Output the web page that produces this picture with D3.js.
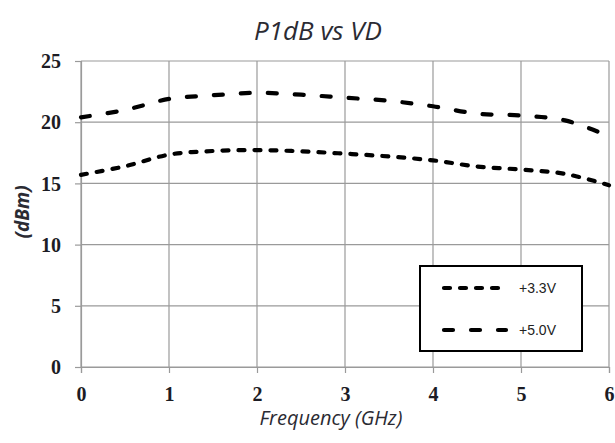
<!DOCTYPE html>
<html>
<head>
<meta charset="utf-8">
<script src="https://cdn.jsdelivr.net/npm/d3@7"></script>
<style>
  html, body { margin: 0; padding: 0; background: #fff; }
  svg { display: block; }
</style>
</head>
<body>
<svg id="chart" width="615" height="443"></svg>
<script>
// Frequency points (GHz) and P1dB readings (dBm) for each drain voltage
const freqGHz = [0, 0.5, 1, 1.5, 2, 2.5, 3, 3.5, 4, 4.5, 5, 5.5, 6];
const p1dB_3v3 = [15.7, 16.4, 17.35, 17.65, 17.72, 17.62, 17.43, 17.2, 16.88, 16.38, 16.13, 15.78, 14.85];
const p1dB_5v0 = [20.4, 21.0, 21.9, 22.2, 22.4, 22.25, 22.0, 21.75, 21.3, 20.7, 20.55, 20.15, 18.85];
const seriesNames = ["+3.3V", "+5.0V"];
const xTicks = [0, 1, 2, 3, 4, 5, 6];
const yTicks = [0, 5, 10, 15, 20, 25];

const svg = d3.select("#chart");
const margin = { left: 81, right: 6, top: 61, bottom: 76 };
const W = 615, H = 443;

const x = d3.scaleLinear().domain([0, 6]).range([margin.left, W - margin.right]);
const y = d3.scaleLinear().domain([0, 25]).range([H - margin.bottom, margin.top]);

const gridColor = "#9a9a9a";
const tickFont = "'Liberation Serif', 'DejaVu Serif', serif";
const textFont = "'Open Sans', 'Noto Sans', sans-serif";

// Gridlines
svg.append("g")
  .selectAll("line.h")
  .data(yTicks)
  .join("line")
  .attr("x1", x(0)).attr("x2", x(6))
  .attr("y1", d => y(d)).attr("y2", d => y(d))
  .attr("stroke", gridColor).attr("stroke-width", 1.2);
svg.append("g")
  .selectAll("line.v")
  .data(xTicks)
  .join("line")
  .attr("x1", d => x(d)).attr("x2", d => x(d))
  .attr("y1", y(0)).attr("y2", y(25))
  .attr("stroke", gridColor).attr("stroke-width", 1.2);

// Axes
const xAxis = svg.append("g")
  .attr("transform", `translate(0,${y(0)})`)
  .call(d3.axisBottom(x).tickValues(xTicks).tickSize(6).tickPadding(8).tickFormat(d3.format("d")));
const yAxis = svg.append("g")
  .attr("transform", `translate(${x(0)},0)`)
  .call(d3.axisLeft(y).tickValues(yTicks).tickSize(6).tickPadding(14).tickFormat(d3.format("d")));

[xAxis, yAxis].forEach(g => {
  g.select(".domain").attr("stroke", gridColor).attr("stroke-width", 1.2);
  g.selectAll(".tick line").attr("stroke", gridColor).attr("stroke-width", 1.2);
  g.selectAll(".tick text")
    .attr("fill", "#1c1c24")
    .style("font-family", tickFont)
    .style("font-weight", "bold")
    .style("font-size", "20px");
});
xAxis.selectAll(".tick text").attr("y", 34).attr("dy", null);
yAxis.selectAll(".tick text").attr("dy", "0.33em");

// Series lines
const line = d3.line()
  .x((d, i) => x(freqGHz[i]))
  .y(d => y(d))
  .curve(d3.curveCatmullRom.alpha(0.5));

const series = [
  { name: seriesNames[0], values: p1dB_3v3, dash: "6,10" },
  { name: seriesNames[1], values: p1dB_5v0, dash: "9,18" }
];

svg.append("g")
  .selectAll("path")
  .data(series)
  .join("path")
  .attr("d", d => line(d.values))
  .attr("fill", "none")
  .attr("stroke", "#000")
  .attr("stroke-width", 4.2)
  .attr("stroke-linecap", "round")
  .attr("stroke-dasharray", d => d.dash);

// Legend
const legend = svg.append("g").attr("transform", "translate(420,266)");
legend.append("rect")
  .attr("x", 0).attr("y", 0).attr("width", 162).attr("height", 85)
  .attr("fill", "#fff").attr("stroke", "#000").attr("stroke-width", 2);
series.forEach((s, i) => {
  const ly = 22 + i * 42;
  legend.append("line")
    .attr("x1", 24).attr("x2", 86).attr("y1", ly).attr("y2", ly)
    .attr("stroke", "#000").attr("stroke-width", 4.2)
    .attr("stroke-linecap", "round")
    .attr("stroke-dasharray", s.dash);
  legend.append("text")
    .attr("x", 99).attr("y", ly).attr("dy", "0.35em")
    .attr("fill", "#222")
    .style("font-family", "'Liberation Sans', Arial, sans-serif")
    .style("font-size", "14px")
    .text(s.name);
});

// Title and axis labels
svg.append("text")
  .attr("x", 318).attr("y", 40)
  .attr("text-anchor", "middle")
  .attr("fill", "#2b2b33")
  .style("font-family", textFont)
  .style("font-style", "italic")
  .style("font-size", "26px")
  .text("P1dB vs VD");

svg.append("text")
  .attr("transform", "translate(29,212) rotate(-90)")
  .attr("text-anchor", "middle")
  .attr("fill", "#2b2b33")
  .style("font-family", textFont)
  .style("font-style", "italic")
  .style("font-weight", "bold")
  .style("font-size", "19px")
  .text("(dBm)");

svg.append("text")
  .attr("x", 331).attr("y", 425)
  .attr("text-anchor", "middle")
  .attr("fill", "#2b2b33")
  .style("font-family", textFont)
  .style("font-style", "italic")
  .style("font-size", "20px")
  .text("Frequency (GHz)");
</script>
</body>
</html>
